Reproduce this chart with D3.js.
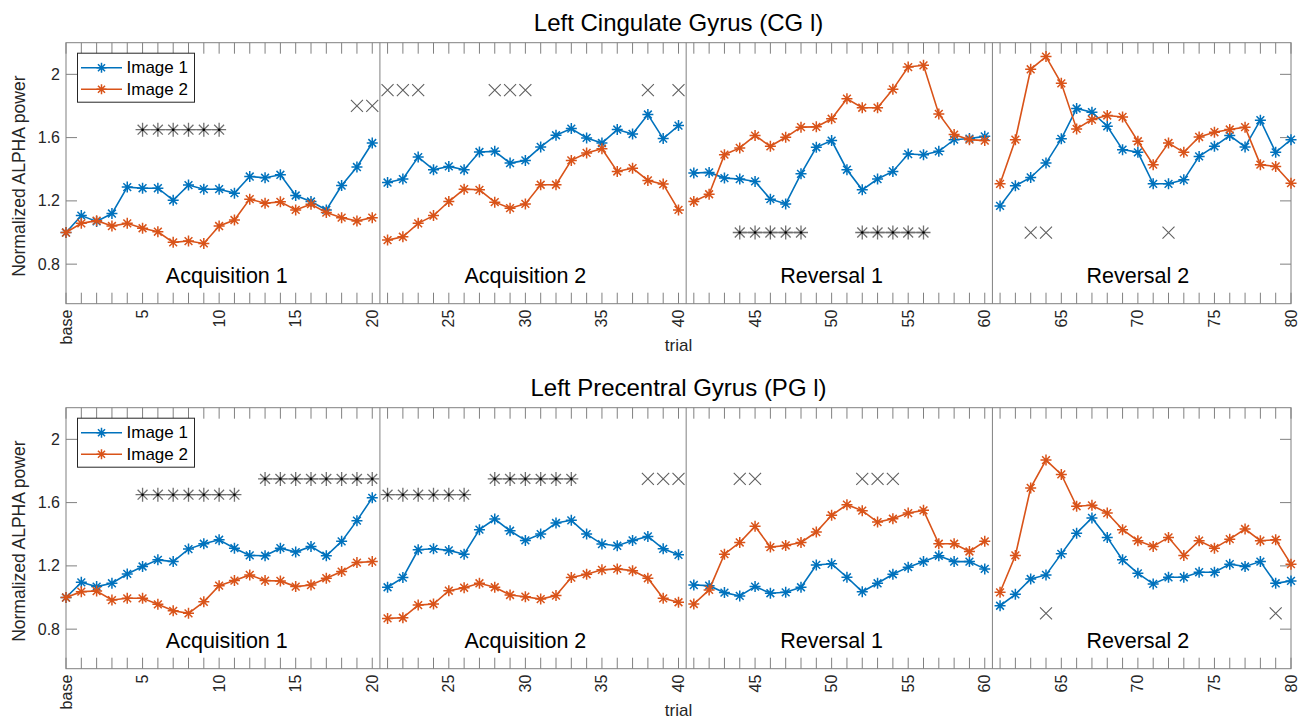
<!DOCTYPE html>
<html>
<head>
    <meta charset="utf-8">
    <title>Normalized alpha power per trial</title>
    <style>
        body { margin: 0; background: #fff; }
        text { font-family: "Liberation Sans", Arial, sans-serif; }
    </style>
    <script src="https://cdn.jsdelivr.net/npm/d3@7"></script>
</head>
<body>
<script>

    // trials: "base" = 0, then 1..80
    var trials = d3.range(0, 81)
    var tickValues = [0, 5, 10, 15, 20, 25, 30, 35, 40, 45, 50, 55, 60, 65, 70, 75, 80]
    var yTicks = [0.8, 1.2, 1.6, 2]
    var phaseNames = ["Acquisition 1", "Acquisition 2", "Reversal 1", "Reversal 2"]
    var phaseCenters = [10.5, 30, 50, 70]
    var phaseFirst = [0, 21, 41, 61]
    var phaseLast = [20, 40, 60, 80]
    var phaseBreaks = [20.5, 40.5, 60.5]
    var seriesNames = ["Image 1", "Image 2"]

    // Left Cingulate Gyrus
    var cgImage1 = [1.00, 1.107, 1.07, 1.12, 1.287, 1.28, 1.28, 1.204, 1.30, 1.274, 1.274, 1.249, 1.354, 1.346, 1.365, 1.234, 1.196, 1.143, 1.297, 1.414, 1.566,
        1.316, 1.338, 1.477, 1.397, 1.418, 1.397, 1.509, 1.513, 1.439, 1.456, 1.541, 1.615, 1.657, 1.598, 1.566, 1.651, 1.623, 1.746, 1.594, 1.676,
        1.376, 1.38, 1.344, 1.338, 1.323, 1.211, 1.181, 1.371, 1.539, 1.581, 1.397, 1.27, 1.338, 1.386, 1.496, 1.492, 1.513, 1.587, 1.594, 1.608,
        1.168, 1.295, 1.348, 1.439, 1.592, 1.784, 1.761, 1.672, 1.524, 1.507, 1.308, 1.308, 1.333, 1.481, 1.545, 1.613, 1.541, 1.71, 1.507, 1.587]
    var cgImage2 = [1.00, 1.058, 1.075, 1.041, 1.058, 1.027, 1.005, 0.938, 0.946, 0.931, 1.041, 1.079, 1.211, 1.185, 1.194, 1.143, 1.179, 1.126, 1.094, 1.073, 1.094,
        0.952, 0.973, 1.058, 1.107, 1.196, 1.274, 1.27, 1.192, 1.154, 1.181, 1.302, 1.302, 1.456, 1.503, 1.53, 1.386, 1.407, 1.329, 1.306, 1.143,
        1.196, 1.242, 1.492, 1.535, 1.613, 1.545, 1.602, 1.666, 1.668, 1.719, 1.846, 1.789, 1.789, 1.905, 2.046, 2.057, 1.75, 1.619, 1.587, 1.581,
        1.308, 1.587, 2.032, 2.112, 1.943, 1.655, 1.714, 1.74, 1.731, 1.577, 1.429, 1.566, 1.507, 1.604, 1.634, 1.651, 1.666, 1.429, 1.418, 1.312]
    var cgStarTrials = [[5, 6, 7, 8, 9, 10], [44, 45, 46, 47, 48], [52, 53, 54, 55, 56]]
    var cgStarLevels = [1.65, 1.0, 1.0]
    var cgCrossTrials = [[19, 20], [21, 22, 23], [28, 29, 30], [38], [40], [63, 64], [72]]
    var cgCrossLevels = [1.8, 1.9, 1.9, 1.9, 1.9, 1.0, 1.0]

    // Left Precentral Gyrus
    var pgImage1 = [1.00, 1.096, 1.069, 1.09, 1.149, 1.196, 1.238, 1.227, 1.306, 1.34, 1.365, 1.312, 1.266, 1.264, 1.312, 1.287, 1.323, 1.264, 1.355, 1.486, 1.63,
        1.065, 1.126, 1.302, 1.308, 1.298, 1.274, 1.429, 1.496, 1.422, 1.361, 1.401, 1.471, 1.488, 1.401, 1.338, 1.327, 1.361, 1.386, 1.308, 1.27,
        1.079, 1.075, 1.031, 1.01, 1.069, 1.027, 1.033, 1.065, 1.206, 1.213, 1.128, 1.037, 1.09, 1.147, 1.192, 1.227, 1.264, 1.227, 1.227, 1.181,
        0.948, 1.02, 1.117, 1.143, 1.276, 1.407, 1.503, 1.38, 1.238, 1.153, 1.086, 1.128, 1.128, 1.16, 1.16, 1.211, 1.196, 1.227, 1.09, 1.105]
    var pgImage2 = [1.00, 1.037, 1.041, 0.984, 0.995, 0.995, 0.957, 0.916, 0.9, 0.973, 1.075, 1.107, 1.143, 1.107, 1.105, 1.069, 1.079, 1.122, 1.164, 1.221, 1.227,
        0.868, 0.872, 0.952, 0.959, 1.043, 1.062, 1.09, 1.065, 1.016, 1.005, 0.99, 1.012, 1.126, 1.147, 1.175, 1.181, 1.17, 1.122, 0.995, 0.97,
        0.959, 1.048, 1.274, 1.348, 1.45, 1.319, 1.329, 1.348, 1.414, 1.52, 1.587, 1.549, 1.477, 1.498, 1.534, 1.551, 1.34, 1.34, 1.291, 1.355,
        1.033, 1.266, 1.693, 1.869, 1.778, 1.577, 1.583, 1.534, 1.429, 1.359, 1.323, 1.38, 1.266, 1.359, 1.312, 1.369, 1.433, 1.359, 1.365, 1.211]
    var pgStarTrials = [[5, 6, 7, 8, 9, 10, 11], [13, 14, 15, 16, 17, 18, 19, 20], [21, 22, 23, 24, 25, 26], [28, 29, 30, 31, 32, 33]]
    var pgStarLevels = [1.65, 1.75, 1.65, 1.75]
    var pgCrossTrials = [[38, 39, 40], [44, 45], [52, 53, 54], [64], [79]]
    var pgCrossLevels = [1.75, 1.75, 1.75, 0.9, 0.9]

    var width = 1309,
        height = 720,
        left = 66,
        right = 1291,
        plotHeight = 261,
        tickLen = 11

    var colors = ["#0072BD", "#D95319"],
        axisColor = "#808080",
        textColor = "#262626"

    var svg = d3.select('body').append('svg')
        .attr('width', width)
        .attr('height', height)
    svg.append('rect').attr('width', width).attr('height', height).attr('fill', 'white')

    var x = d3.scaleLinear().domain([0, 80]).range([left, right])

    // star marker = plus + cross
    function starPath(r) {
        var d = r * Math.SQRT1_2
        return "M" + (-r) + ",0L" + r + ",0M0," + (-r) + "L0," + r +
            "M" + (-d) + "," + (-d) + "L" + d + "," + d +
            "M" + (-d) + "," + d + "L" + d + "," + (-d)
    }
    function crossPath(r) {
        return "M" + (-r) + "," + (-r) + "L" + r + "," + r + "M" + (-r) + "," + r + "L" + r + "," + (-r)
    }

    function drawPanel(top, title, series, starTrials, starLevels, crossTrials, crossLevels) {
        var bottom = top + plotHeight
        var y = d3.scaleLinear().domain([0.55, 2.2]).range([bottom, top])
        var g = svg.append('g')

        g.append('text')
            .attr('x', (left + right) / 2)
            .attr('y', top - 12)
            .attr('text-anchor', 'middle')
            .attr('font-size', 24)
            .attr('fill', '#000')
            .text(title)

        // ticks, inward, on all four sides
        var xt = g.append('g').attr('stroke', axisColor).attr('stroke-width', 1)
        trials.forEach(function (t) {
            xt.append('line').attr('x1', x(t)).attr('x2', x(t)).attr('y1', bottom).attr('y2', bottom - tickLen)
            xt.append('line').attr('x1', x(t)).attr('x2', x(t)).attr('y1', top).attr('y2', top + tickLen)
        })
        yTicks.forEach(function (v) {
            xt.append('line').attr('x1', left).attr('x2', left + tickLen).attr('y1', y(v)).attr('y2', y(v))
            xt.append('line').attr('x1', right).attr('x2', right - tickLen).attr('y1', y(v)).attr('y2', y(v))
        })

        phaseBreaks.forEach(function (b) {
            g.append('line')
                .attr('x1', x(b)).attr('x2', x(b))
                .attr('y1', top).attr('y2', bottom)
                .attr('stroke', axisColor).attr('stroke-width', 1)
        })

        g.append('rect')
            .attr('x', left).attr('y', top)
            .attr('width', right - left).attr('height', plotHeight)
            .attr('fill', 'none').attr('stroke', axisColor).attr('stroke-width', 1)

        // tick labels
        tickValues.forEach(function (t) {
            g.append('text')
                .attr('transform', 'translate(' + x(t) + ',' + (bottom + 6) + ') rotate(-90)')
                .attr('text-anchor', 'end')
                .attr('dominant-baseline', 'central')
                .attr('font-size', 16)
                .attr('fill', textColor)
                .text(t === 0 ? 'base' : t)
        })
        yTicks.forEach(function (v) {
            g.append('text')
                .attr('x', left - 6)
                .attr('y', y(v))
                .attr('text-anchor', 'end')
                .attr('dominant-baseline', 'central')
                .attr('font-size', 16)
                .attr('fill', textColor)
                .text(v)
        })

        g.append('text')
            .attr('x', (left + right) / 2)
            .attr('y', bottom + 47)
            .attr('text-anchor', 'middle')
            .attr('font-size', 17)
            .attr('fill', textColor)
            .text('trial')
        g.append('text')
            .attr('transform', 'translate(25,' + (top + plotHeight / 2 + 3) + ') rotate(-90)')
            .attr('text-anchor', 'middle')
            .attr('font-size', 17.5)
            .attr('fill', textColor)
            .text('Normalized ALPHA power')

        phaseNames.forEach(function (name, i) {
            g.append('text')
                .attr('x', x(phaseCenters[i]))
                .attr('y', bottom - 21)
                .attr('text-anchor', 'middle')
                .attr('font-size', 21.5)
                .attr('fill', '#000')
                .text(name)
        })

        // significance markers
        starTrials.forEach(function (run, i) {
            var lv = y(starLevels[i])
            g.append('line')
                .attr('x1', x(run[0])).attr('x2', x(run[run.length - 1]))
                .attr('y1', lv).attr('y2', lv)
                .attr('stroke', axisColor).attr('stroke-width', 1.3)
            run.forEach(function (t) {
                g.append('path')
                    .attr('d', starPath(7))
                    .attr('transform', 'translate(' + x(t) + ',' + lv + ')')
                    .attr('stroke', '#707070').attr('stroke-width', 1.3).attr('fill', 'none')
                g.append('circle')
                    .attr('cx', x(t)).attr('cy', lv).attr('r', 1.3)
                    .attr('fill', '#000')
            })
        })
        crossTrials.forEach(function (run, i) {
            var lv = y(crossLevels[i])
            run.forEach(function (t) {
                g.append('path')
                    .attr('d', crossPath(6))
                    .attr('transform', 'translate(' + x(t) + ',' + lv + ')')
                    .attr('stroke', '#606060').attr('stroke-width', 1.1).attr('fill', 'none')
            })
        })

        // data lines, one segment per phase
        var line = d3.line()
            .x(function (d) { return x(d.t) })
            .y(function (d) { return y(d.v) })
        series.forEach(function (vals, s) {
            var pts = vals.map(function (v, i) { return { t: trials[i], v: v } })
            phaseFirst.forEach(function (f, p) {
                g.append('path')
                    .datum(pts.filter(function (d) { return d.t >= f && d.t <= phaseLast[p] }))
                    .attr('d', line)
                    .attr('fill', 'none')
                    .attr('stroke', colors[s])
                    .attr('stroke-width', 1.6)
            })
            g.selectAll(null)
                .data(pts)
                .enter().append('path')
                .attr('d', starPath(5.5))
                .attr('transform', function (d) { return 'translate(' + x(d.t) + ',' + y(d.v) + ')' })
                .attr('stroke', colors[s])
                .attr('stroke-width', 1.5)
                .attr('fill', 'none')
        })

        // legend
        var lg = g.append('g')
        lg.append('rect')
            .attr('x', 77.5).attr('y', top + 10.5)
            .attr('width', 117).attr('height', 49)
            .attr('fill', 'white').attr('stroke', textColor).attr('stroke-width', 1)
        seriesNames.forEach(function (name, s) {
            var ly = top + 25 + s * 21.5
            lg.append('line')
                .attr('x1', 81).attr('x2', 122).attr('y1', ly).attr('y2', ly)
                .attr('stroke', colors[s]).attr('stroke-width', 1.6)
            lg.append('path')
                .attr('d', starPath(5))
                .attr('transform', 'translate(101.5,' + ly + ')')
                .attr('stroke', colors[s]).attr('stroke-width', 1.5).attr('fill', 'none')
            lg.append('text')
                .attr('x', 126.5).attr('y', ly)
                .attr('dominant-baseline', 'central')
                .attr('font-size', 17)
                .attr('fill', '#000')
                .text(name)
        })
    }

    drawPanel(42.7, "Left Cingulate Gyrus (CG l)", [cgImage1, cgImage2],
        cgStarTrials, cgStarLevels, cgCrossTrials, cgCrossLevels)
    drawPanel(407.7, "Left Precentral Gyrus (PG l)", [pgImage1, pgImage2],
        pgStarTrials, pgStarLevels, pgCrossTrials, pgCrossLevels)

</script>
</body>
</html>
